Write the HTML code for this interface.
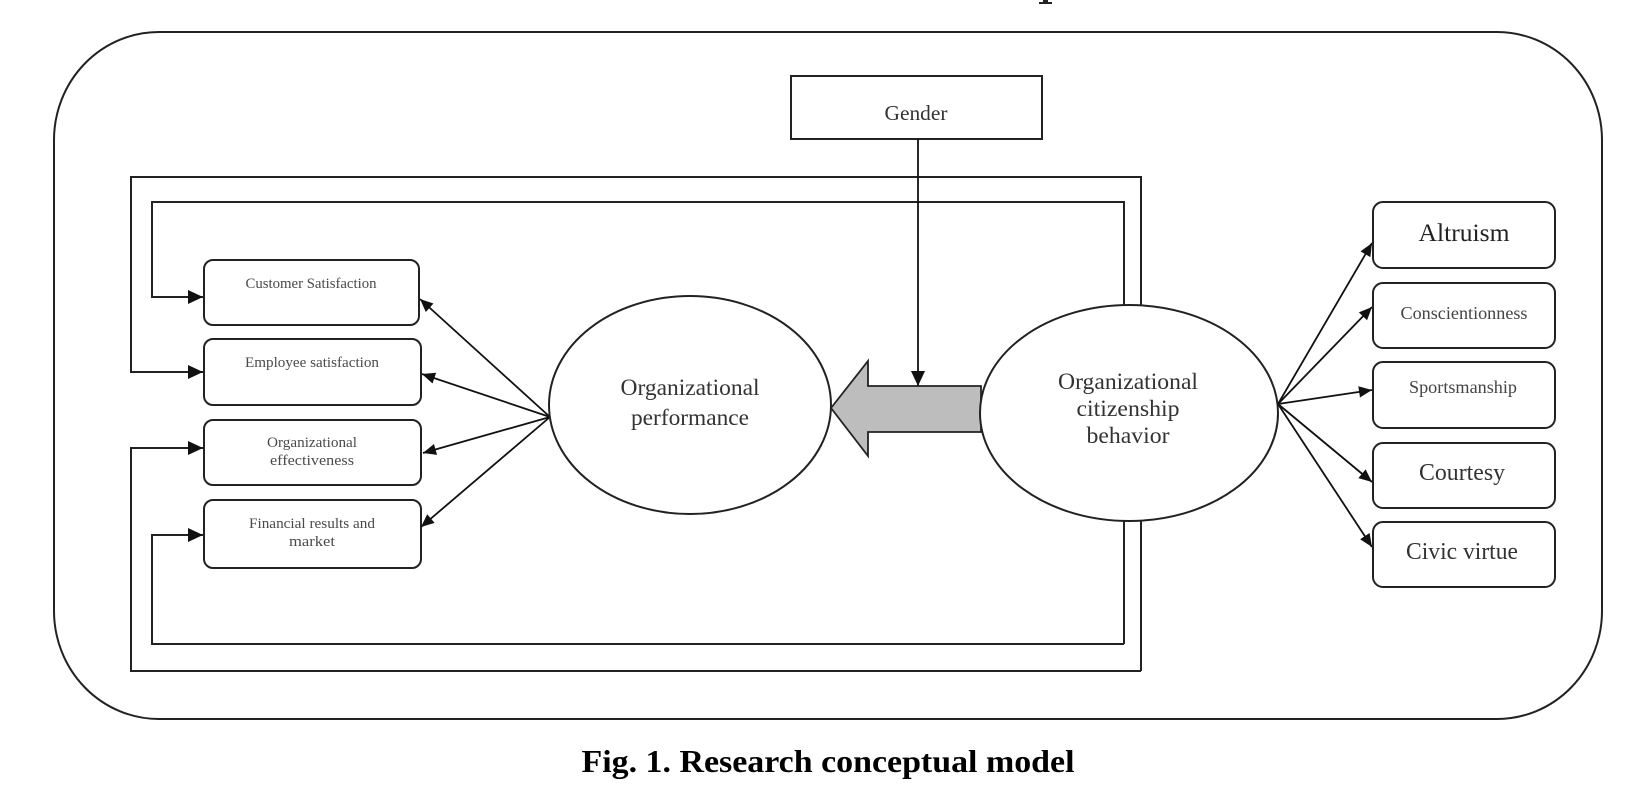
<!DOCTYPE html>
<html>
<head>
<meta charset="utf-8">
<style>
  html, body { margin: 0; padding: 0; background: #ffffff; }
  body { width: 1646px; height: 788px; overflow: hidden; }
  svg { display: block; }
  text { font-family: "Liberation Serif", "Times New Roman", serif; }
</style>
</head>
<body>
<svg width="1646" height="788" viewBox="0 0 1646 788" xmlns="http://www.w3.org/2000/svg">
  <defs>
    <marker id="ah" viewBox="0 0 16 16" refX="16" refY="8" markerWidth="16" markerHeight="15" markerUnits="userSpaceOnUse" orient="auto">
      <path d="M0,0.5 L16,8 L0,15.5 z" fill="#111"/>
    </marker>
    <marker id="ahs" viewBox="0 0 16 16" refX="16" refY="8" markerWidth="15" markerHeight="13" markerUnits="userSpaceOnUse" orient="auto">
      <path d="M0,1 L16,8 L0,15 z" fill="#111"/>
    </marker>
  </defs>

  <!-- cut-off descender from previous text line -->
  <rect x="1043" y="0" width="5" height="3" fill="#222"/>
  <rect x="1039" y="2" width="13" height="2" fill="#222"/>

  <!-- outer rounded frame -->
  <rect x="54" y="32" width="1548" height="687" rx="105" ry="108" fill="none" stroke="#222" stroke-width="2"/>

  <!-- Gender box -->
  <rect x="791" y="76" width="251" height="63" fill="#fff" stroke="#222" stroke-width="2"/>
  <text x="916" y="120" font-size="21" fill="#333" text-anchor="middle" textLength="63" lengthAdjust="spacingAndGlyphs">Gender</text>

  <!-- loop connectors -->
  <g fill="none" stroke="#222" stroke-width="2">
    <path d="M1141,671 L1141,177 L131,177 L131,372 L203,372" marker-end="url(#ah)"/>
    <path d="M1141,671 L131,671 L131,448 L203,448" marker-end="url(#ah)"/>
    <path d="M1124,644 L1124,202 L152,202 L152,297 L203,297" marker-end="url(#ah)"/>
    <path d="M1124,644 L152,644 L152,535 L203,535" marker-end="url(#ah)"/>
  </g>

  <!-- left boxes -->
  <g fill="#fff" stroke="#222" stroke-width="2">
    <rect x="204" y="260" width="215" height="65" rx="9" ry="9"/>
    <rect x="204" y="339" width="217" height="66" rx="9" ry="9"/>
    <rect x="204" y="420" width="217" height="65" rx="9" ry="9"/>
    <rect x="204" y="500" width="217" height="68" rx="9" ry="9"/>
  </g>
  <g font-size="15" fill="#4a4a4a" text-anchor="middle">
    <text x="311" y="288" textLength="131" lengthAdjust="spacingAndGlyphs">Customer Satisfaction</text>
    <text x="312" y="367" textLength="134" lengthAdjust="spacingAndGlyphs">Employee satisfaction</text>
    <text x="312" y="447" textLength="90" lengthAdjust="spacingAndGlyphs">Organizational</text>
    <text x="312" y="465" textLength="84" lengthAdjust="spacingAndGlyphs">effectiveness</text>
    <text x="312" y="528" textLength="126" lengthAdjust="spacingAndGlyphs">Financial results and</text>
    <text x="312" y="546" textLength="46" lengthAdjust="spacingAndGlyphs">market</text>
  </g>

  <!-- arrows from Organizational performance to left boxes -->
  <g stroke="#111" stroke-width="1.8" fill="none">
    <line x1="550" y1="417" x2="420" y2="299" marker-end="url(#ahs)"/>
    <line x1="550" y1="417" x2="422" y2="374" marker-end="url(#ahs)"/>
    <line x1="550" y1="417" x2="423" y2="453" marker-end="url(#ahs)"/>
    <line x1="550" y1="417" x2="421" y2="527" marker-end="url(#ahs)"/>
  </g>

  <!-- Organizational performance ellipse -->
  <ellipse cx="690" cy="405" rx="141" ry="109" fill="#fff" stroke="#222" stroke-width="2"/>
  <g font-size="23" fill="#333" text-anchor="middle">
    <text x="690" y="395" textLength="139" lengthAdjust="spacingAndGlyphs">Organizational</text>
    <text x="690" y="425" textLength="118" lengthAdjust="spacingAndGlyphs">performance</text>
  </g>

  <!-- big grey arrow -->
  <polygon points="831,408 868,361 868,386 981,386 981,432 868,432 868,456" fill="#bdbdbd" stroke="#222" stroke-width="1.8" stroke-linejoin="miter"/>

  <!-- Gender connector -->
  <line x1="918" y1="139" x2="918" y2="386" stroke="#111" stroke-width="1.8" marker-end="url(#ah)"/>

  <!-- OCB ellipse -->
  <ellipse cx="1129" cy="413" rx="149" ry="108" fill="#fff" stroke="#222" stroke-width="2"/>
  <g font-size="23" fill="#333" text-anchor="middle">
    <text x="1128" y="389" textLength="140" lengthAdjust="spacingAndGlyphs">Organizational</text>
    <text x="1128" y="416" textLength="103" lengthAdjust="spacingAndGlyphs">citizenship</text>
    <text x="1128" y="443" textLength="83" lengthAdjust="spacingAndGlyphs">behavior</text>
  </g>

  <!-- arrows from OCB to right boxes -->
  <g stroke="#111" stroke-width="1.8" fill="none">
    <line x1="1278" y1="404" x2="1372" y2="243" marker-end="url(#ahs)"/>
    <line x1="1278" y1="404" x2="1372" y2="307" marker-end="url(#ahs)"/>
    <line x1="1278" y1="404" x2="1372" y2="390" marker-end="url(#ahs)"/>
    <line x1="1278" y1="404" x2="1372" y2="482" marker-end="url(#ahs)"/>
    <line x1="1278" y1="404" x2="1372" y2="547" marker-end="url(#ahs)"/>
  </g>

  <!-- right boxes -->
  <g fill="#fff" stroke="#222" stroke-width="2">
    <rect x="1373" y="202" width="182" height="66" rx="10" ry="10"/>
    <rect x="1373" y="283" width="182" height="65" rx="10" ry="10"/>
    <rect x="1373" y="362" width="182" height="66" rx="10" ry="10"/>
    <rect x="1373" y="443" width="182" height="65" rx="10" ry="10"/>
    <rect x="1373" y="522" width="182" height="65" rx="10" ry="10"/>
  </g>
  <g text-anchor="middle">
    <text x="1464" y="241" font-size="25" fill="#222" textLength="91" lengthAdjust="spacingAndGlyphs">Altruism</text>
    <text x="1464" y="319" font-size="18" fill="#444" textLength="127" lengthAdjust="spacingAndGlyphs">Conscientionness</text>
    <text x="1463" y="393" font-size="18" fill="#444" textLength="108" lengthAdjust="spacingAndGlyphs">Sportsmanship</text>
    <text x="1462" y="480" font-size="24" fill="#333" textLength="86" lengthAdjust="spacingAndGlyphs">Courtesy</text>
    <text x="1462" y="559" font-size="24" fill="#333" textLength="112" lengthAdjust="spacingAndGlyphs">Civic virtue</text>
  </g>

  <!-- caption -->
  <text x="828" y="772" font-size="32" font-weight="bold" fill="#000" text-anchor="middle" textLength="493" lengthAdjust="spacingAndGlyphs">Fig. 1. Research conceptual model</text>
</svg>
</body>
</html>
